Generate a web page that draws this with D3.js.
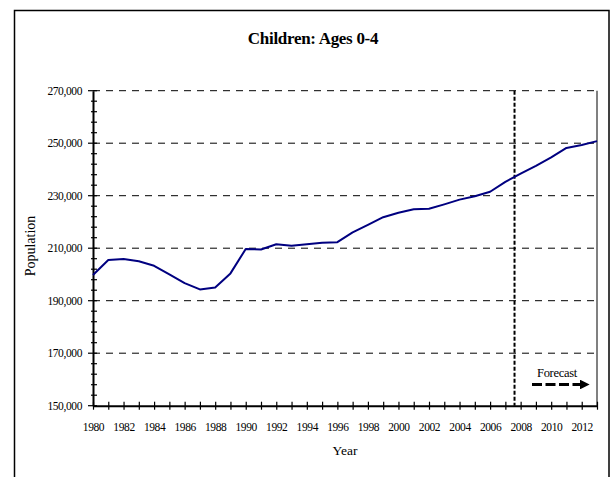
<!DOCTYPE html>
<html>
<head>
<meta charset="utf-8">
<script src="https://cdn.jsdelivr.net/npm/d3@7/dist/d3.min.js"></script>
<style>
  html, body { margin: 0; padding: 0; background: #fff; }
  svg { display: block; }
  text { font-family: "Liberation Serif", "Times New Roman", serif; fill: #000; }
</style>
</head>
<body>
<script>
// Population of children aged 0-4, 1980-2013 (values from 2008 onward are forecasts)
const years = [1980, 1981, 1982, 1983, 1984, 1985, 1986, 1987, 1988, 1989,
               1990, 1991, 1992, 1993, 1994, 1995, 1996, 1997, 1998, 1999,
               2000, 2001, 2002, 2003, 2004, 2005, 2006, 2007, 2008, 2009,
               2010, 2011, 2012, 2013];
const population = [199800, 205500, 205900, 205000, 203300, 200000, 196700, 194300, 195000, 200400,
                    209700, 209500, 211500, 210900, 211500, 212100, 212300, 216000, 218900, 221800,
                    223500, 224800, 225000, 226700, 228500, 229800, 231500, 235300, 238400, 241400,
                    244600, 248200, 249300, 250800];
const yTicks = [150000, 170000, 190000, 210000, 230000, 250000, 270000];
const xLabelYears = years.filter(y => y % 2 === 0);
const forecastStart = 2007.6;
const titleText = "Children: Ages 0-4";
const xTitle = "Year";
const yTitle = "Population";
const forecastLabel = "Forecast";

const W = 613, H = 477;
const plot = { left: 93, right: 597, top: 90.7, bottom: 405.7 };

const svg = d3.select("body").append("svg").attr("width", W).attr("height", H);

// outer chart frame
svg.append("rect")
  .attr("x", 14.5).attr("y", 10.5)
  .attr("width", 594.5).attr("height", 490)
  .attr("fill", "#fff").attr("stroke", "#000").attr("stroke-width", 1.5);

const x = d3.scaleLinear().domain([1980, 2013]).range([plot.left, plot.right]);
const y = d3.scaleLinear().domain([150000, 270000]).range([plot.bottom, plot.top]);

// title
svg.append("text")
  .attr("x", 313).attr("y", 43.5)
  .attr("text-anchor", "middle")
  .style("font-size", "17px").style("font-weight", "bold")
  .style("letter-spacing", "-0.3px")
  .text(titleText);

// right border of plot area
svg.append("line")
  .attr("x1", plot.right).attr("x2", plot.right)
  .attr("y1", plot.top).attr("y2", plot.bottom)
  .attr("stroke", "#808080").attr("stroke-width", 2);

// horizontal dashed gridlines
svg.append("g").selectAll("line")
  .data(yTicks.filter(v => v > 150000))
  .join("line")
  .attr("x1", plot.left).attr("x2", plot.right)
  .attr("y1", d => y(d)).attr("y2", d => y(d))
  .attr("stroke", "#000").attr("stroke-width", 1)
  .attr("stroke-dasharray", "7,6");

// y axis with minor ticks every 4,000
const yMinor = d3.range(150000, 270001, 4000);
svg.append("g")
  .selectAll("line")
  .data(yMinor)
  .join("line")
  .attr("x1", d => (yTicks.includes(d) ? plot.left - 5 : plot.left - 2))
  .attr("x2", plot.left + 4)
  .attr("y1", d => y(d)).attr("y2", d => y(d))
  .attr("stroke", "#000").attr("stroke-width", 1.2);

const yAxis = d3.axisLeft(y)
  .tickValues(yTicks)
  .tickSize(0)
  .tickPadding(11)
  .tickFormat(d3.format(","));
const gy = svg.append("g").attr("transform", `translate(${plot.left},0)`).call(yAxis);
gy.select(".domain").attr("stroke", "#000").attr("stroke-width", 2);
gy.selectAll("text").style("font-size", "11.5px").style("letter-spacing", "-0.4px");

// x axis: a tick every year, labels every other year
const xAxis = d3.axisBottom(x)
  .tickValues(years)
  .tickSize(0)
  .tickPadding(17)
  .tickFormat(d => (xLabelYears.includes(d) ? String(d) : ""));
const gx = svg.append("g").attr("transform", `translate(0,${plot.bottom})`).call(xAxis);
gx.select(".domain").attr("stroke", "#000").attr("stroke-width", 2);
gx.selectAll(".tick line")
  .attr("y1", -4).attr("y2", 4)
  .attr("stroke", "#000").attr("stroke-width", 1.2);
gx.selectAll("text").style("font-size", "11.5px").style("letter-spacing", "-0.4px");

// axis titles
svg.append("text")
  .attr("x", (plot.left + plot.right) / 2).attr("y", 455)
  .attr("text-anchor", "middle")
  .style("font-size", "13.5px")
  .text(xTitle);
svg.append("text")
  .attr("transform", "translate(35,246) rotate(-90)")
  .attr("text-anchor", "middle")
  .style("font-size", "14px")
  .text(yTitle);

// forecast boundary
svg.append("line")
  .attr("x1", x(forecastStart)).attr("x2", x(forecastStart))
  .attr("y1", plot.top).attr("y2", plot.bottom)
  .attr("stroke", "#000").attr("stroke-width", 2)
  .attr("stroke-dasharray", "4,2");

// population series
const line = d3.line().x((d, i) => x(years[i])).y(d => y(d));
svg.append("path")
  .datum(population)
  .attr("d", line)
  .attr("fill", "none")
  .attr("stroke", "#000080")
  .attr("stroke-width", 2)
  .attr("stroke-linejoin", "round");

// forecast label and arrow
svg.append("defs").append("marker")
  .attr("id", "arrowhead")
  .attr("viewBox", "0 0 10 10")
  .attr("refX", 0).attr("refY", 5)
  .attr("markerWidth", 3.2).attr("markerHeight", 3.2)
  .attr("markerUnits", "strokeWidth")
  .attr("orient", "auto")
  .append("path").attr("d", "M0,0 L10,5 L0,10 Z").attr("fill", "#000");

svg.append("text")
  .attr("x", 557).attr("y", 377)
  .attr("text-anchor", "middle")
  .style("font-size", "12.5px")
  .style("letter-spacing", "-0.3px")
  .text(forecastLabel);

svg.append("line")
  .attr("x1", 532).attr("x2", 580)
  .attr("y1", 384.5).attr("y2", 384.5)
  .attr("stroke", "#000").attr("stroke-width", 3)
  .attr("stroke-dasharray", "10,3.5")
  .attr("marker-end", "url(#arrowhead)");
</script>
</body>
</html>
